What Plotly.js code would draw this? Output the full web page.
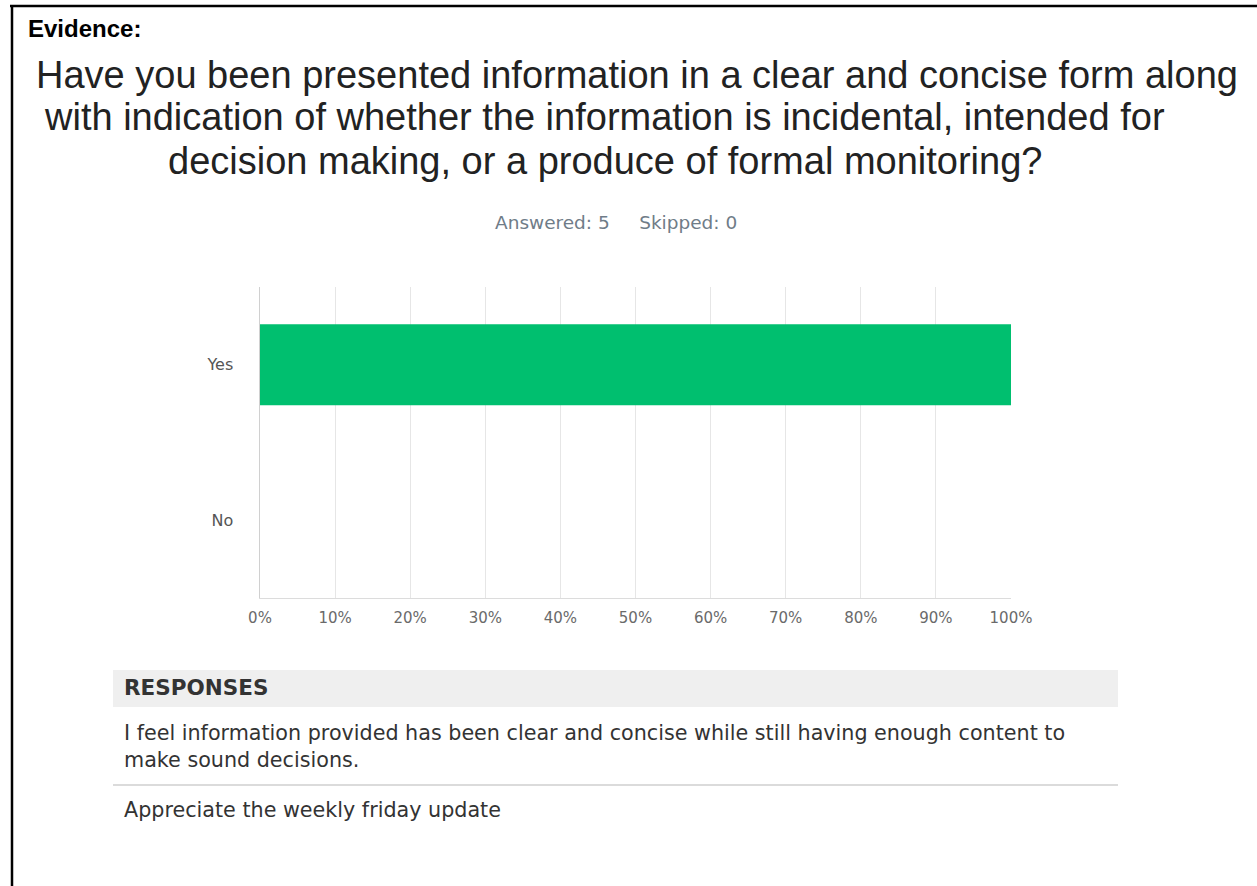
<!DOCTYPE html>
<html>
<head>
<meta charset="utf-8">
<script src="https://cdn.plot.ly/plotly-3.0.1.min.js"></script>
<style>
html,body{margin:0;padding:0;background:#fff;}
#chart{width:1257px;height:886px;}
</style>
</head>
<body>
<div id="chart"></div>
<script>
const categories = ["Yes", "No"];
const percentValues = [100, 0];
const xTickValues = [0, 10, 20, 30, 40, 50, 60, 70, 80, 90, 100];
const xTickLabels = ["0%", "10%", "20%", "30%", "40%", "50%", "60%", "70%", "80%", "90%", "100%"];
const titleLines = [
  "Have you been presented information in a clear and concise form along",
  "with indication of whether the information is incidental, intended for",
  "decision making, or a produce of formal monitoring?"
];
const summaryText = "Answered: 5&nbsp;&nbsp;&nbsp;&nbsp;&nbsp;Skipped: 0";
const responses = [
  "I feel information provided has been clear and concise while still having enough content to<br>make sound decisions.",
  "Appreciate the weekly friday update"
];

const trace = {
  type: "bar",
  orientation: "h",
  x: percentValues,
  y: categories,
  marker: {color: "#00bf6f", line: {width: 0}},
  width: 0.52,
  hoverinfo: "x+y"
};

const W = 1257, H = 886;
const PL = 260, PR = 1011, PT = 287, PB = 598;
const px = (x) => (x - PL) / (PR - PL);
const py = (y) => (PB - y) / (PB - PT);

const ann = (text, x, y, xanchor, font, extra) => Object.assign({
  text: text, x: px(x), y: py(y), xref: "paper", yref: "paper",
  xanchor: xanchor, yanchor: "middle", showarrow: false, font: font
}, extra || {});

const titleFont = {family: "Liberation Sans, Arial", size: 38, color: "#222"};
const bodyFont = {family: "DejaVu Sans", size: 20.7, color: "#333"};

const annotations = [
  ann("<b>Evidence:</b>", 26, 28, "left", {family: "Liberation Sans, Arial", size: 24, color: "#000"}),
  ann(titleLines[0], 637, 75, "center", titleFont),
  ann(titleLines[1], 604, 117, "center", titleFont),
  ann(titleLines[2], 605, 161, "center", titleFont),
  ann(summaryText, 616, 222, "center", {family: "DejaVu Sans", size: 18.5, color: "#6f7c88"}),
  ann("<b>RESPONSES</b>", 122, 687, "left", {family: "DejaVu Sans", size: 21.5, color: "#333"}),
  ann(responses[0], 122, 746, "left", bodyFont, {align: "left"}),
  ann(responses[1], 122, 810, "left", bodyFont)
];

const shapes = [
  {type: "line", xref: "paper", yref: "paper", x0: px(10), x1: px(1260), y0: py(6), y1: py(6), line: {color: "#000", width: 2.5}},
  {type: "line", xref: "paper", yref: "paper", x0: px(12), x1: px(12), y0: py(5), y1: py(890), line: {color: "#000", width: 2.5}},
  {type: "rect", xref: "paper", yref: "paper", x0: px(113), x1: px(1118), y0: py(670), y1: py(707), fillcolor: "#efefef", line: {width: 0}, layer: "below"},
  {type: "line", xref: "paper", yref: "paper", x0: px(113), x1: px(1118), y0: py(785), y1: py(785), line: {color: "#cfcfcf", width: 1.5}}
];

const layout = {
  width: W, height: H,
  paper_bgcolor: "#fff", plot_bgcolor: "#fff",
  margin: {l: PL, r: W - PR, t: PT, b: H - PB, pad: 0},
  showlegend: false,
  xaxis: {
    range: [0, 100], tickvals: xTickValues, ticktext: xTickLabels,
    showgrid: true, gridcolor: "#e6e6e6", gridwidth: 1,
    zeroline: false, showline: true, linecolor: "#dcdcdc", linewidth: 1,
    ticks: "", ticklabelstandoff: 6,
    tickfont: {family: "DejaVu Sans", size: 15, color: "#6a6a6a"},
    fixedrange: true
  },
  yaxis: {
    type: "category", autorange: "reversed", range: [-0.5, 1.5],
    showgrid: false, zeroline: false, showline: true, linecolor: "#d0d0d0", linewidth: 1.5,
    ticks: "", ticklabelstandoff: 22,
    tickfont: {family: "DejaVu Sans", size: 16, color: "#555"},
    fixedrange: true
  },
  annotations: annotations,
  shapes: shapes
};

Plotly.newPlot("chart", [trace], layout, {displayModeBar: false, staticPlot: true});
</script>
</body>
</html>
